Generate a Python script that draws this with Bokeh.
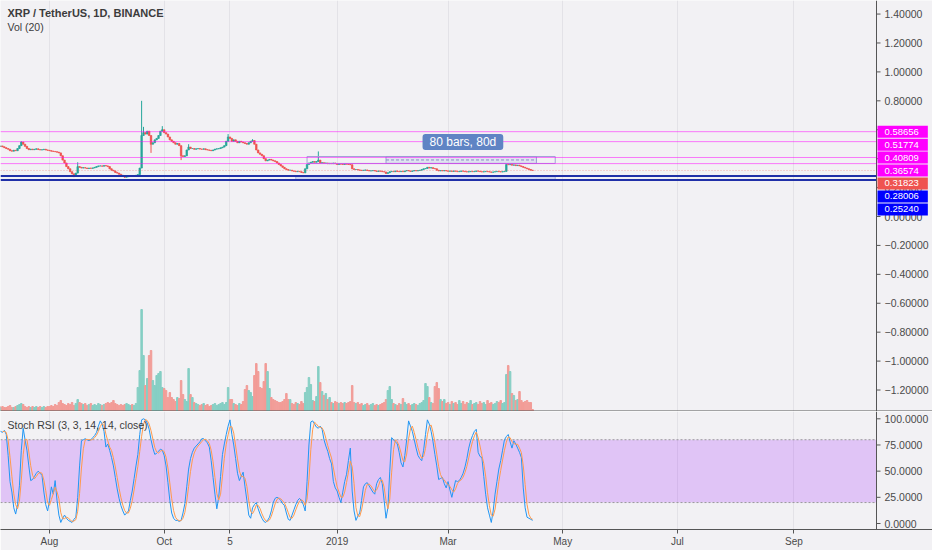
import pandas as pd
from bokeh.plotting import figure
from bokeh.layouts import column
from bokeh.models import (Range1d, FixedTicker, Label, Span,
                          ColumnDataSource, Grid, BoxAnnotation)
from bokeh.core.properties import value
from bokeh.embed import file_html
from bokeh.resources import INLINE

# ---------------- data (days counted from 2018-08-01) ----------------
FIRST_DAY = -27
FIRST_OPEN = 0.487

CLOSE = [
    0.485, 0.488, 0.482, 0.476, 0.470, 0.465, 0.455, 0.452, 0.458, 0.455,
    0.470, 0.490, 0.515, 0.500, 0.485, 0.470, 0.462, 0.466, 0.462, 0.465,
    0.468, 0.463, 0.460, 0.462, 0.465, 0.460, 0.458, 0.455, 0.452, 0.450,
    0.448, 0.445, 0.440, 0.420, 0.390, 0.370, 0.345, 0.330, 0.310, 0.295,
    0.280, 0.300, 0.345, 0.340, 0.335, 0.338, 0.335, 0.332, 0.335, 0.333,
    0.336, 0.340, 0.345, 0.350, 0.350, 0.348, 0.352, 0.350, 0.345, 0.330,
    0.320, 0.315, 0.305, 0.300, 0.292, 0.285, 0.278, 0.272, 0.275, 0.278,
    0.282, 0.280, 0.282, 0.285, 0.290, 0.335, 0.560, 0.580, 0.570, 0.590,
    0.560, 0.500, 0.510, 0.530, 0.540, 0.560, 0.590, 0.600, 0.580, 0.570,
    0.550, 0.530, 0.520, 0.510, 0.500, 0.505, 0.490, 0.420, 0.415, 0.420,
    0.460, 0.480, 0.470, 0.470, 0.465, 0.468, 0.470, 0.466, 0.465, 0.468,
    0.462, 0.460, 0.458, 0.455, 0.460, 0.466, 0.468, 0.470, 0.475, 0.480,
    0.490, 0.520, 0.550, 0.540, 0.520, 0.530, 0.520, 0.510, 0.520, 0.515,
    0.510, 0.505, 0.500, 0.510, 0.520, 0.525, 0.500, 0.460, 0.440, 0.430,
    0.420, 0.400, 0.385, 0.390, 0.395, 0.390, 0.385, 0.380, 0.370, 0.360,
    0.350, 0.340, 0.330, 0.325, 0.320, 0.320, 0.315, 0.313, 0.310, 0.312,
    0.310, 0.305, 0.302, 0.330, 0.360, 0.370, 0.375, 0.380, 0.375, 0.380,
    0.390, 0.370, 0.372, 0.368, 0.370, 0.365, 0.368, 0.365, 0.370, 0.365,
    0.360, 0.365, 0.362, 0.360, 0.365, 0.362, 0.360, 0.358, 0.330, 0.325,
    0.325, 0.322, 0.320, 0.318, 0.320, 0.322, 0.318, 0.315, 0.316, 0.318,
    0.315, 0.312, 0.315, 0.313, 0.310, 0.308, 0.298, 0.303, 0.310, 0.312,
    0.310, 0.315, 0.312, 0.310, 0.313, 0.310, 0.315, 0.318, 0.315, 0.312,
    0.315, 0.318, 0.315, 0.318, 0.320, 0.325, 0.330, 0.332, 0.340, 0.335,
    0.338, 0.332, 0.330, 0.320, 0.315, 0.318, 0.315, 0.318, 0.315, 0.313,
    0.315, 0.312, 0.315, 0.313, 0.310, 0.312, 0.315, 0.313, 0.310, 0.308,
    0.310, 0.312, 0.310, 0.312, 0.315, 0.313, 0.310, 0.308, 0.310, 0.312,
    0.310, 0.308, 0.306, 0.308, 0.310, 0.312, 0.310, 0.308, 0.310, 0.312,
    0.360, 0.358, 0.360, 0.355, 0.357, 0.352, 0.355, 0.350, 0.345, 0.340,
    0.335, 0.330, 0.325, 0.320, 0.31823,
]

WICK_HIGH = {-15: 0.52, 15: 0.375, 49: 0.80, 50: 0.62, 60: 0.625, 74: 0.50,
             95: 0.57, 108: 0.535, 143: 0.45}
WICK_LOW = {13: 0.272, 40: 0.268, 54: 0.44, 70: 0.39, 179: 0.295}

VOLUME = [
    5, 4, 5, 4, 4, 5, 6, 4, 4, 5,
    6, 7, 8, 7, 5, 4, 5, 4, 5, 4,
    5, 4, 5, 4, 5, 4, 5, 5, 6, 5,
    7, 6, 9, 11, 8, 7, 6, 8, 7, 9,
    6, 8, 12, 9, 8, 7, 8, 6, 7, 8,
    6, 7, 6, 8, 7, 6, 7, 8, 9, 8,
    9, 11, 8, 7, 6, 7, 6, 7, 8, 7,
    6, 7, 6, 8, 24, 41, 102, 56, 26, 33,
    56, 61, 31, 26, 36, 38, 40, 24, 23, 21,
    14, 19, 14, 12, 10, 14, 13, 31, 17, 12,
    10, 43, 17, 14, 9, 8, 7, 6, 7, 8,
    6, 7, 5, 6, 7, 8, 6, 7, 8, 9,
    7, 9, 24, 12, 12, 8, 7, 6, 8, 7,
    10, 22, 26, 21, 19, 15, 36, 48, 40, 24,
    23, 30, 48, 40, 23, 14, 12, 11, 10, 9,
    9, 10, 12, 18, 12, 12, 8, 7, 9, 8,
    7, 10, 8, 19, 24, 34, 27, 11, 10, 15,
    45, 29, 20, 16, 18, 12, 14, 9, 8, 10,
    9, 8, 9, 8, 9, 8, 9, 10, 26, 9,
    8, 9, 7, 8, 6, 7, 8, 6, 7, 8,
    6, 7, 6, 7, 8, 9, 12, 21, 25, 12,
    8, 7, 6, 8, 7, 13, 9, 7, 8, 6,
    7, 8, 7, 6, 8, 9, 11, 28, 25, 14,
    9, 8, 25, 29, 23, 12, 10, 12, 8, 9,
    7, 10, 8, 9, 7, 11, 8, 10, 7, 9,
    8, 11, 7, 8, 9, 7, 10, 8, 9, 7,
    11, 8, 9, 7, 8, 10, 9, 11, 8, 9,
    37, 46, 40, 18, 16, 11, 12, 20, 11, 9,
    10, 11, 9, 9, 2,
]

STOCH_K = [
    88, 88, 87, 89, 85, 65, 40, 30, 15, 9,
    18, 36, 70, 91, 80, 70, 55, 41, 42, 45,
    48, 50, 48, 46, 30, 18, 12, 22, 35, 28,
    41, 22, 8, 1, 5, 8, 5, 3, 2, 1,
    4, 6, 25, 55, 79, 80, 81, 80, 79, 80,
    82, 84, 87, 93, 98, 95, 88, 73, 76, 70,
    63, 55, 44, 33, 24, 17, 12, 8, 10, 12,
    22, 31, 43, 55, 66, 85, 99, 100, 99, 96,
    90, 80, 72, 66, 67, 69, 71, 70, 65, 55,
    39, 22, 10, 5, 3, 3, 2, 3, 10, 19,
    35, 52, 62, 68, 72, 74, 76, 78, 81, 81,
    79, 77, 73, 60, 44, 28, 14, 25, 45, 66,
    76, 85, 93, 99, 85, 75, 62, 48, 41, 45,
    49, 35, 22, 8, 5, 15, 18, 20, 14, 9,
    5, 2, 1, 3, 6, 12, 20, 24, 25, 24,
    22, 19, 17, 10, 4, 3, 8, 13, 18, 22,
    24, 22, 18, 12, 40, 75, 97, 98, 95, 92,
    91, 93, 90, 80, 74, 69, 62, 57, 40, 34,
    31, 25, 20, 30, 40, 47, 60, 72, 31, 12,
    3, 7, 10, 22, 35, 38, 39, 36, 33, 30,
    28, 38, 42, 44, 38, 22, 5, 15, 50, 82,
    80, 78, 76, 68, 58, 54, 65, 80, 98, 93,
    88, 80, 72, 65, 62, 60, 70, 85, 99, 95,
    88, 78, 66, 55, 42, 43, 44, 38, 34, 40,
    32, 25, 33, 41, 40, 41, 44, 48, 54, 62,
    72, 79, 84, 88, 90, 68, 64, 63, 45, 28,
    15, 8, 1, 12, 28, 40, 52, 60, 70, 80,
    83, 85, 78, 72, 79, 76, 72, 68, 63, 34,
    15, 6, 5, 4, 3,
]

TICK_DAYS = [0, 61, 96, 153, 212, 273, 334, 396]
TICK_LABELS = ["Aug", "Oct", "5", "2019", "Mar", "May", "Jul", "Sep"]
PRICE_TICKS = [-1.2, -1.0, -0.8, -0.6, -0.4, -0.2, 0.0, 0.2, 0.4, 0.6, 0.8, 1.0, 1.2, 1.4]
STOCH_TICKS = [0, 25, 50, 75, 100]
STOCH_BAND = (20, 80)

LEVELS = [0.58656, 0.51774, 0.40809, 0.36574, 0.31823, 0.28006, 0.25240]
LEVEL_COLORS = ["#ff00ff", "#ff00ff", "#ff00ff", "#ff00ff", "#ef5350", "#0000ff", "#0000ff"]

# drawings on the chart (day, price)
RANGE_BOX = dict(left=179, right=259, bottom=0.367, top=0.415)
OUTER_BOX = dict(left=137, right=269, bottom=0.367, top=0.415)
SUPPORT_BOX = dict(left=131, right=269, bottom=0.2524, top=0.28006)
RANGE_TEXT = "80 bars, 80d"
RANGE_TEXT_POS = (219.9, 0.5156)

assert len(CLOSE) == len(VOLUME) == len(STOCH_K)

# ---------------- layout constants (pixels) ----------------
W, H_MAIN, H_STOCH = 932, 411, 139
FRAME_W = 876            # width of the plotting area left of the price scale
AUG_PX = 49              # pixel column of 2018-08-01
PX_PER_DAY = 1.88
X_START = -AUG_PX / PX_PER_DAY
X_AXIS = (FRAME_W - AUG_PX) / PX_PER_DAY
X_END_FULL = (W - AUG_PX) / PX_PER_DAY
TICK_LEN = 4 / PX_PER_DAY
ZERO_PX, PX_PER_UNIT = 216.0, 144.6
P_TOP = ZERO_PX / PX_PER_UNIT
P_BOT = (ZERO_PX - H_MAIN) / PX_PER_UNIT
S_TOP, S_BOT = 106.97, -5.73
S_PX_PER_UNIT = 1.047

BG = "#f2f1f4"
GRID = "#e3e2e7"
AXIS = "#555555"
TEXT = "#4a4a4a"
UP, DOWN = "#26a69a", "#ef5350"
UP_VOL, DOWN_VOL = "#86cfc4", "#f29c97"
FONT = "Liberation Sans"

days = list(range(FIRST_DAY, FIRST_DAY + len(CLOSE)))
opens = [FIRST_OPEN] + CLOSE[:-1]
highs = [WICK_HIGH.get(d, max(o, c)) for d, o, c in zip(days, opens, CLOSE)]
lows = [WICK_LOW.get(d, min(o, c)) for d, o, c in zip(days, opens, CLOSE)]
is_up = [c >= o for o, c in zip(opens, CLOSE)]
stoch_d = pd.Series(STOCH_K, dtype=float).rolling(3).mean().tolist()

src = ColumnDataSource(dict(
    day=days, open=opens, close=CLOSE, high=highs, low=lows,
    btop=[max(o, c) for o, c in zip(opens, CLOSE)],
    bbot=[min(o, c) for o, c in zip(opens, CLOSE)],
    color=[UP if u else DOWN for u in is_up],
    vcolor=[UP_VOL if u else DOWN_VOL for u in is_up],
    vol=VOLUME, k=STOCH_K, d=stoch_d,
))


def price_scale(p, ticks, labels, size):
    """Right-hand scale drawn inside the full-width frame."""
    p.add_layout(Span(location=X_AXIS, dimension="height", line_color=AXIS, line_width=1))
    p.segment(x0=[X_AXIS] * len(ticks), x1=[X_AXIS + TICK_LEN] * len(ticks),
              y0=ticks, y1=ticks, line_color=AXIS, line_width=1)
    p.text(x=[X_AXIS] * len(ticks), y=ticks, text=labels, x_offset=8,
           text_align="left", text_baseline="middle",
           text_font=value(FONT), text_font_size=size, text_color=TEXT)


# ---------------- main pane ----------------
p1 = figure(width=W, height=H_MAIN, x_range=Range1d(X_START, X_END_FULL),
            y_range=Range1d(P_BOT, P_TOP), x_axis_location=None, y_axis_location=None,
            output_backend="svg", toolbar_location=None,
            min_border_left=0, min_border_top=0, min_border_bottom=0, min_border_right=0,
            background_fill_color=BG, border_fill_color=BG, outline_line_color=None)
p1.grid.visible = False
p1.add_layout(Grid(dimension=0, ticker=FixedTicker(ticks=TICK_DAYS), grid_line_color=GRID))

p1.extra_y_ranges = {"vol": Range1d(0, H_MAIN)}
p1.vbar(x="day", top="vol", bottom=0, width=0.8, color="vcolor", source=src, y_range_name="vol")

p1.quad(fill_color="#c5d0ee", fill_alpha=0.8, line_color="#a8b4e0", line_width=1, **SUPPORT_BOX)

p1.segment(x0="day", y0="high", x1="day", y1="low", line_color="color", line_width=1, source=src)
p1.vbar(x="day", top="btop", bottom="bbot", width=0.8, fill_color="color",
        line_color="color", line_width=0.7, source=src)

p1.quad(fill_alpha=0, line_color="#a3a3d6", line_width=1, **OUTER_BOX)
p1.quad(fill_color="#8fa3e0", fill_alpha=0.18, line_color="#9c9cd4", line_width=1, **RANGE_BOX)
mid = (RANGE_BOX["bottom"] + RANGE_BOX["top"]) / 2
p1.segment(x0=[RANGE_BOX["left"]], y0=[mid], x1=[RANGE_BOX["right"]], y1=[mid],
           line_color="#8888c8", line_dash="3 2", line_width=1)

for lv, col in zip(LEVELS, LEVEL_COLORS):
    if col == "#ff00ff":
        kw = dict(line_color=col, line_alpha=0.5, line_width=1)
    elif col == "#ef5350":
        kw = dict(line_color=col, line_alpha=0.45, line_width=1, line_dash="1 2")
    else:
        kw = dict(line_color="#2030a8", line_width=2)
    p1.segment(x0=[X_START], x1=[X_AXIS], y0=[lv], y1=[lv], **kw)

price_scale(p1, PRICE_TICKS, [f"{t:.5f}".replace("-", "\u2212") for t in PRICE_TICKS], "10.5px")

step = 12.95 / PX_PER_UNIT
for i, (lv, col) in enumerate(zip(LEVELS, LEVEL_COLORS)):
    p1.add_layout(Label(x=X_AXIS, y=LEVELS[0] - i * step, text=f"{lv:.5f}", x_offset=1,
                        text_align="left", text_baseline="middle", text_color="white",
                        text_font=FONT, text_font_size="9.5px", background_fill_color=col,
                        padding=dict(left=7, right=9, top=3, bottom=3)))

p1.add_layout(Label(x=RANGE_TEXT_POS[0], y=RANGE_TEXT_POS[1], text=RANGE_TEXT,
                    text_align="center", text_baseline="middle",
                    text_color="white", text_font=FONT, text_font_size="12px",
                    background_fill_color="#5f84c4", border_radius=3,
                    padding=dict(left=7, right=7, top=1, bottom=1)))

p1.add_layout(Label(x=X_START, y=(ZERO_PX - 12.5) / PX_PER_UNIT, x_offset=7,
                    text="XRP / TetherUS, 1D, BINANCE", text_font=FONT,
                    text_font_style="bold", text_font_size="11px", text_color="#3c3c3c",
                    text_baseline="middle"))
p1.add_layout(Label(x=X_START, y=(ZERO_PX - 26) / PX_PER_UNIT, x_offset=7, text="Vol (20)",
                    text_font=FONT, text_font_size="10.5px", text_color="#3c3c3c",
                    text_baseline="middle"))

p1.add_layout(Span(location=P_BOT + 0.5 / PX_PER_UNIT, dimension="width",
                   line_color=AXIS, line_width=1))

# ---------------- stoch RSI pane ----------------
p2 = figure(width=W, height=H_STOCH, x_range=Range1d(X_START, X_END_FULL),
            y_range=Range1d(S_BOT, S_TOP), y_axis_location=None,
            output_backend="svg", toolbar_location=None,
            min_border_left=0, min_border_top=0, min_border_right=0, min_border_bottom=21,
            background_fill_color=BG, border_fill_color=BG, outline_line_color=None)
p2.grid.visible = False
p2.add_layout(Grid(dimension=0, ticker=FixedTicker(ticks=TICK_DAYS), grid_line_color=GRID))
p2.add_layout(BoxAnnotation(left=X_START, right=X_AXIS, bottom=STOCH_BAND[0], top=STOCH_BAND[1],
                            fill_color="#9915ff", fill_alpha=0.2, line_color=None,
                            level="underlay"))
for b in STOCH_BAND:
    p2.segment(x0=[X_START], x1=[X_AXIS], y0=[b], y1=[b], line_color="#9a9a9a",
               line_dash="2 2", line_width=1)

p2.line("day", "k", line_color="#2196f3", line_width=1, source=src)
p2.line("day", "d", line_color="#ff9a4d", line_width=1, source=src)

price_scale(p2, STOCH_TICKS, [f"{t:.4f}" for t in STOCH_TICKS], "10.5px")

xa = p2.xaxis[0]
xa.ticker = FixedTicker(ticks=TICK_DAYS)
xa.major_label_overrides = dict(zip(TICK_DAYS, TICK_LABELS))
xa.axis_line_color = AXIS
xa.major_tick_line_color = AXIS
xa.minor_tick_line_color = None
xa.major_tick_out = 4
xa.major_tick_in = 0
xa.major_label_text_font = FONT
xa.major_label_text_font_size = "10px"
xa.major_label_text_color = TEXT
xa.major_label_standoff = 2

p2.add_layout(Label(x=X_START, y=S_TOP - 13.5 / S_PX_PER_UNIT, x_offset=7,
                    text="Stoch RSI (3, 3, 14, 14, close)", text_font=FONT,
                    text_font_size="10.5px", text_color="#3c3c3c", text_baseline="middle"))

layout = column(p1, p2, spacing=0)
open("out.html", "w").write(file_html(layout, INLINE))
